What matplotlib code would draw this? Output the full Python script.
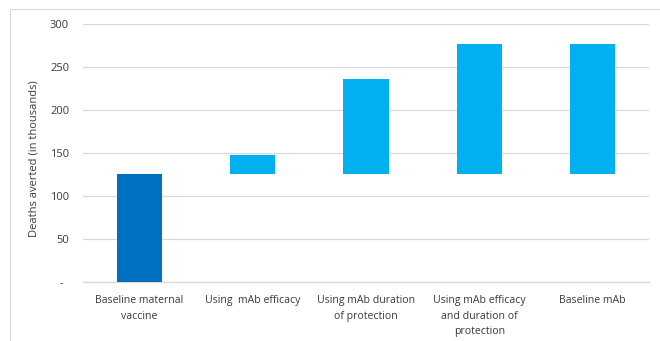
import matplotlib
matplotlib.use("Agg")
import matplotlib.pyplot as plt
from matplotlib.patches import Rectangle

# Scenarios and deaths averted (thousands): each bar spans from its base to its total
categories = [
    "Baseline maternal\nvaccine",
    "Using  mAb efficacy",
    "Using mAb duration\nof protection",
    "Using mAb efficacy\nand duration of\nprotection",
    "Baseline mAb",
]
bar_base = [0, 126, 126, 126, 126]
bar_total = [126, 148, 236, 277, 277]
bar_colors = ["#0070C0", "#00B0F0", "#00B0F0", "#00B0F0", "#00B0F0"]
y_ticks = [0, 50, 100, 150, 200, 250, 300]
y_tick_labels = ["-  ", "50", "100", "150", "200", "250", "300"]

plt.rcParams["font.family"] = ["Open Sans", "DejaVu Sans"]
text_color = "#3A3A3A"

fig = plt.figure(figsize=(6.6, 3.41), dpi=100)
fig.patch.set_facecolor("white")

# light frame around the chart area
fig.add_artist(Rectangle((10 / 660, -0.1), 1.2, (341 - 9) / 341 + 0.1,
                         transform=fig.transFigure, fill=False,
                         edgecolor="#D9D9D9", linewidth=0.8))

ax = fig.add_axes([83 / 660, 58.7 / 341, (649 - 83) / 660, (282.3 - 24.3) / 341])

x = list(range(len(categories)))
heights = [t - b for t, b in zip(bar_total, bar_base)]
ax.bar(x, heights, bottom=bar_base, width=0.4, color=bar_colors, zorder=3)

ax.set_xlim(-0.5, len(categories) - 0.5)
ax.set_ylim(0, 300)
ax.set_yticks(y_ticks)
ax.set_yticklabels(y_tick_labels)
ax.yaxis.grid(True, color="#D9D9D9", linewidth=0.9, zorder=0)
ax.set_axisbelow(True)

for side in ("top", "right", "left"):
    ax.spines[side].set_visible(False)
ax.spines["bottom"].set_color("#D9D9D9")
ax.spines["bottom"].set_linewidth(0.9)

ax.tick_params(axis="y", length=0, pad=10, labelsize=8, labelcolor=text_color)
ax.tick_params(axis="x", length=0, pad=9, labelsize=7.6, labelcolor=text_color)
ax.set_xticks(x)
ax.set_xticklabels(categories, linespacing=1.6, va="top")

fig.text(34 / 660, 1 - 159 / 341, "Deaths averted (in thousands)", rotation=90,
         ha="center", va="center", fontsize=8, color=text_color)

fig.savefig("out.png", dpi=100, facecolor="white")
